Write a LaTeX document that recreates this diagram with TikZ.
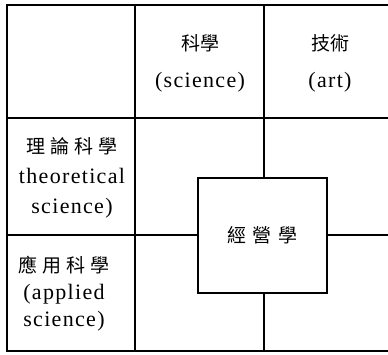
\documentclass[tikz,border=0pt]{standalone}
\usepackage{fontspec}
\setmainfont{Liberation Serif}[LetterSpace=6]
\newfontfamily\cjk{Noto Sans CJK TC}
\newcommand{\cjkgap}{\hspace{5pt}}
\begin{document}
\begin{tikzpicture}[x=1pt,y=-1pt,line width=1.2pt,
  lbl/.style={align=center,inner sep=0pt},
  toplbl/.style={lbl,font=\fontsize{22}{37}\selectfont},
  sidelbl/.style={lbl,font=\fontsize{22}{30}\selectfont},
  sidelblb/.style={lbl,font=\fontsize{22}{27}\selectfont},
  centerbox/.style={draw,minimum width=129pt,minimum height=115pt,inner sep=0pt,
    font=\cjk\fontsize{19}{19}\selectfont}]
\useasboundingbox (0,0) rectangle (388,354);
% grid coordinates
\coordinate (tl) at (7,5);
\coordinate (tr) at (388,5);
\coordinate (bl) at (7,351);
\coordinate (br) at (388,351);
\coordinate (r1l) at (7,118);
\coordinate (r1r) at (388,118);
\coordinate (c1t) at (135,5);
\coordinate (c1b) at (135,351);
\coordinate (c2t) at (264,5);
\coordinate (c2b) at (264,351);
\coordinate (r2l) at (7,235);
\coordinate (r2r) at (388,235);
% frame and grid
\draw (tr) -- (tl) -- (bl) -- (br);
\draw (r1l) -- (r1r);
\draw (c1t) -- (c1b);
% centre box
\node[centerbox] (mgmt) at (262.5,235.5) {經\hspace{7pt}營\hspace{7pt}學\hspace{8pt}};
\draw (c2t) -- (c2t |- mgmt.north);
\draw (mgmt.south -| c2b) -- (c2b);
\draw (r2l) -- (r2l -| mgmt.west);
\draw (mgmt.east |- r2r) -- (r2r);
% labels
\node[toplbl] (sci) at (200,63) {{\cjk\fontsize{19}{19}\selectfont 科學}\\(science)};
\node[toplbl] (art) at (330,63) {{\cjk\fontsize{19}{19}\selectfont 技術}\\(art)};
\node[sidelbl] (theo) at (72,178) {{\cjk\fontsize{19}{19}\selectfont 理\cjkgap 論\cjkgap 科\cjkgap 學\hspace{8pt}}\\theoretical\\science)};
\node[sidelblb] (appl) at (64,294) {{\cjk\fontsize{19}{19}\selectfont 應\cjkgap 用\cjkgap 科\cjkgap 學}\\(applied\\science)};
\end{tikzpicture}
\end{document}
